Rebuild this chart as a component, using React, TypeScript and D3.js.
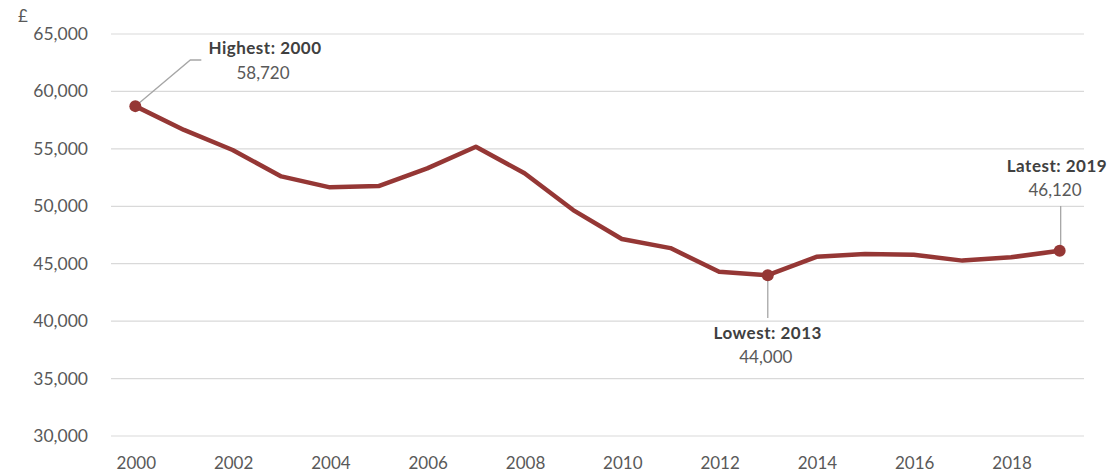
import React from "react";
import * as d3 from "d3";

const years: number[] = [2000, 2001, 2002, 2003, 2004, 2005, 2006, 2007, 2008, 2009, 2010, 2011, 2012, 2013, 2014, 2015, 2016, 2017, 2018, 2019];
const values: number[] = [58720, 56650, 54900, 52600, 51650, 51760, 53300, 55180, 52870, 49670, 47150, 46360, 44300, 44000, 45600, 45840, 45780, 45270, 45560, 46120];
const yTicks: number[] = [30000, 35000, 40000, 45000, 50000, 55000, 60000, 65000];
const xTickYears: number[] = [2000, 2002, 2004, 2006, 2008, 2010, 2012, 2014, 2016, 2018];

const annotations = [
  { year: 2000, title: "Highest: 2000", value: "58,720" },
  { year: 2013, title: "Lowest: 2013", value: "44,000" },
  { year: 2019, title: "Latest: 2019", value: "46,120" },
];

const W = 1109;
const H = 475;
const left = 111;
const right = 1084;
const FONT = "Lato, 'Open Sans', sans-serif";

export default function App() {
  const x = d3.scaleBand<number>().domain(years).range([left, right]);
  const cx = (yr: number) => (x(yr) as number) + x.bandwidth() / 2;
  const y = d3.scaleLinear().domain([30000, 65000]).range([436, 34]);
  const fmt = d3.format(",");
  const line = d3
    .line<number>()
    .x((_, i) => cx(years[i]))
    .y((v) => y(v));

  const valOf = (yr: number) => values[years.indexOf(yr)];

  return (
    <svg width={W} height={H} style={{ position: "absolute", left: 0, top: 0, background: "#fff" }} fontFamily={FONT}>
      <text x={18} y={22} fontSize={17} fill="#595959">£</text>
      {yTicks.map((t) => (
        <g key={t}>
          <line x1={left} x2={right} y1={y(t)} y2={y(t)} stroke="#d9d9d9" strokeWidth={1.2} />
          <text x={88} y={y(t) + 6} textAnchor="end" fontSize={17.5} fill="#595959">
            {fmt(t)}
          </text>
        </g>
      ))}
      {xTickYears.map((yr) => (
        <text key={yr} x={cx(yr) + 1} y={469} textAnchor="middle" fontSize={17} fill="#595959">
          {yr}
        </text>
      ))}
      {(() => {
        const p0 = { x: cx(2000), y: y(valOf(2000)) };
        const p1 = { x: cx(2013), y: y(valOf(2013)) };
        const p2 = { x: cx(2019), y: y(valOf(2019)) };
        return (
          <g stroke="#a6a6a6" strokeWidth={1.3} fill="none">
            <polyline points={`${p0.x},${p0.y} ${p0.x + 55},${60} ${p0.x + 66},${60}`} />
            <line x1={p1.x} x2={p1.x} y1={p1.y} y2={318} />
            <line x1={p2.x + 1} x2={p2.x + 1} y1={p2.y} y2={206} />
          </g>
        );
      })()}
      <path d={line(values) || ""} fill="none" stroke="#953735" strokeWidth={4.5} strokeLinejoin="round" />
      {annotations.map((a) => (
        <circle key={a.year} cx={cx(a.year)} cy={y(valOf(a.year))} r={6} fill="#953735" />
      ))}
      {(() => {
        const pos: Record<number, { x: number; y1: number; y2: number }> = {
          2000: { x: 265, y1: 54, y2: 79 },
          2013: { x: cx(2013), y1: 339, y2: 363 },
          2019: { x: 1057, y1: 172, y2: 196 },
        };
        return annotations.map((a) => (
          <g key={a.year}>
            <text x={pos[a.year].x} y={pos[a.year].y1} textAnchor="middle" fontSize={17} letterSpacing={0.5} fontWeight="bold" fill="#404040">
              {a.title}
            </text>
            <text x={pos[a.year].x - 2} y={pos[a.year].y2} textAnchor="middle" fontSize={17} fill="#595959">
              {a.value}
            </text>
          </g>
        ));
      })()}
    </svg>
  );
}
